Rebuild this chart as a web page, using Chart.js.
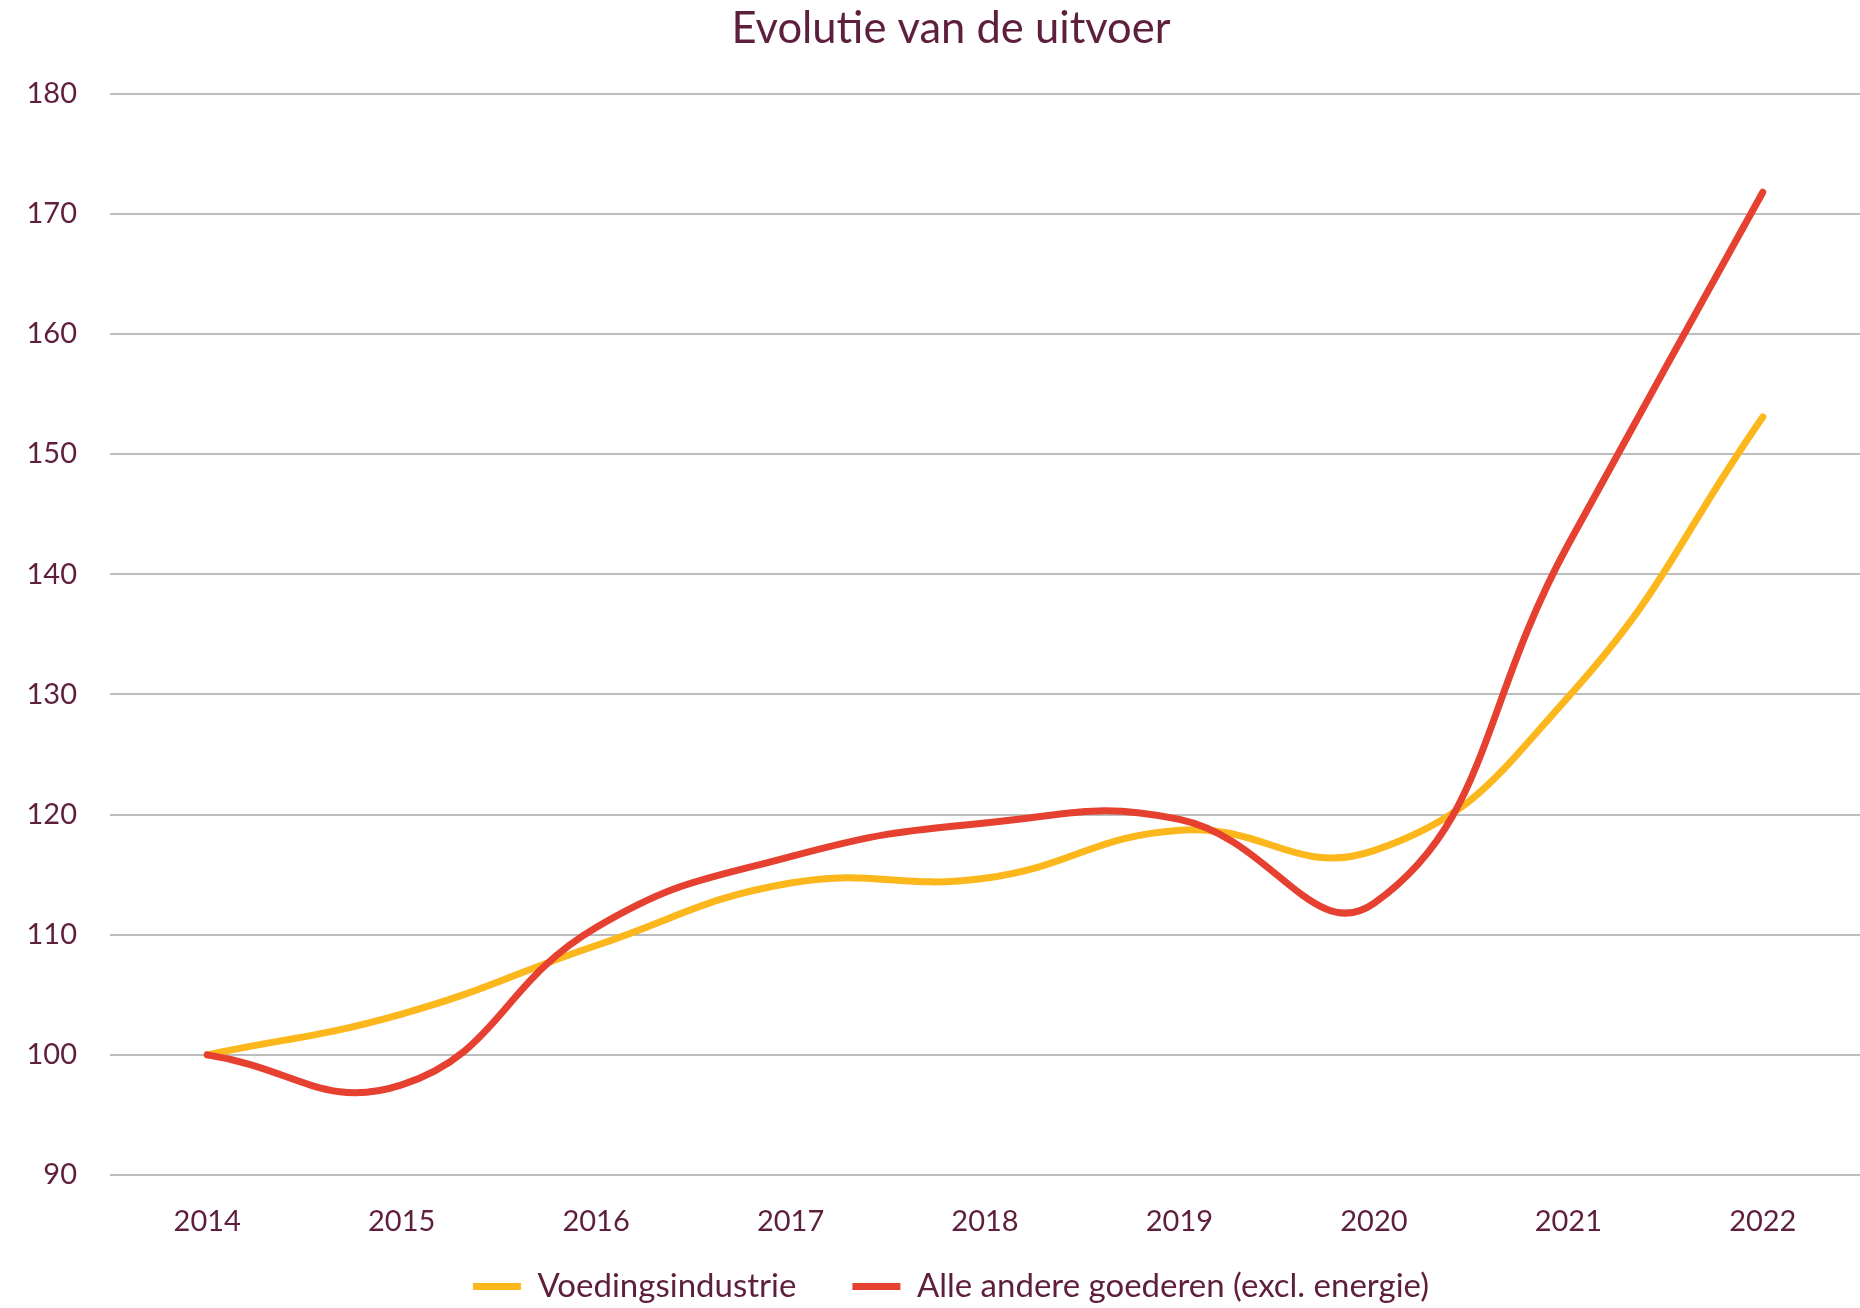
<!DOCTYPE html>
<html>
<head>
<meta charset="utf-8">
<script src="https://cdn.jsdelivr.net/npm/chart.js@4/dist/chart.umd.min.js"></script>
<style>
  body { margin: 0; background: #fff; }
</style>
</head>
<body>
<canvas id="lineChart" width="1860" height="1308"></canvas>
<script>
var years = ['2014', '2015', '2016', '2017', '2018', '2019', '2020', '2021', '2022'];
var voeding = [100, 103.4, 109.1, 114.3, 114.7, 118.7, 117.0, 129.8, 153.1];
var andere = [100, 97.5, 110.6, 116.5, 119.3, 119.6, 112.6, 142.5, 171.8];
var yTicks = [90, 100, 110, 120, 130, 140, 150, 160, 170, 180];

var textColor = '#5e1f3d';
Chart.defaults.font.family = 'Lato, sans-serif';
Chart.defaults.color = textColor;

// axis boxes are sized by hand below, so let their labels draw outside the box
function noLabelClip(axis) {
    axis._computeLabelArea = function () { return undefined; };
}

var ctx = document.getElementById('lineChart').getContext('2d');
var myChart = new Chart(ctx, {
    type: 'line',
    data: {
        labels: years,
        datasets: [{
            label: 'Voedingsindustrie',
            data: voeding,
            borderColor: '#fcb71c',
            backgroundColor: '#fcb71c',
            borderWidth: 7,
            borderCapStyle: 'round',
            pointRadius: 0,
            tension: 0.45,
            order: 1
        }, {
            label: 'Alle andere goederen (excl. energie)',
            data: andere,
            borderColor: '#e54030',
            backgroundColor: '#e54030',
            borderWidth: 7,
            borderCapStyle: 'round',
            pointRadius: 0,
            tension: 0.45,
            order: 0
        }]
    },
    options: {
        responsive: false,
        animation: false,
        layout: { padding: { left: 42, right: 0, top: 0, bottom: -5 } },
        plugins: {
            title: {
                display: true,
                text: 'Evolutie van de uitvoer',
                color: textColor,
                font: { size: 43.5, weight: 'normal' },
                padding: { top: 3, bottom: 38.5 }
            },
            legend: {
                position: 'bottom',
                labels: {
                    usePointStyle: true,
                    pointStyle: 'line',
                    pointStyleWidth: 48,
                    padding: 56,
                    color: textColor,
                    font: { size: 33 },
                    sort: function (a, b) { return a.datasetIndex - b.datasetIndex; }
                }
            },
            tooltip: { enabled: false }
        },
        scales: {
            x: {
                offset: true,
                grid: { display: false },
                border: { display: false },
                ticks: { padding: 21, font: { size: 29 }, color: textColor },
                afterFit: function (axis) { axis.height = 39; noLabelClip(axis); }
            },
            y: {
                min: 90,
                max: 180,
                afterBuildTicks: function (axis) {
                    axis.ticks = yTicks.map(function (v) { return { value: v }; });
                },
                grid: { color: '#bdbdbd', lineWidth: 2, drawTicks: false },
                border: { display: false },
                ticks: { padding: 33, font: { size: 29 }, color: textColor },
                afterFit: function (axis) { axis.width = 68; noLabelClip(axis); }
            }
        }
    }
});
</script>
</body>
</html>
